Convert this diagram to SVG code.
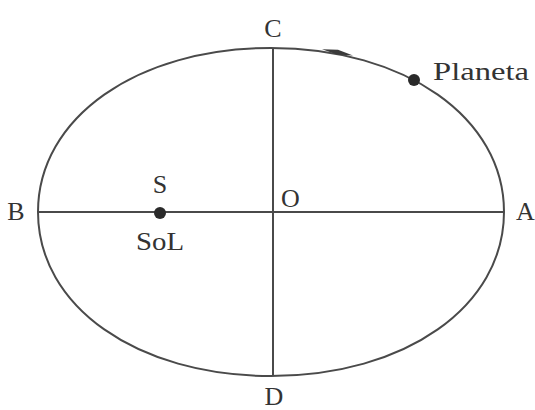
<svg xmlns="http://www.w3.org/2000/svg" width="535" height="410" viewBox="0 0 535 410">
<style>
.ln{fill:none;stroke:#4a4a4a;stroke-width:2}
.t{font-family:"Liberation Serif","DejaVu Serif",serif;font-size:26px;fill:#333}
.dot{fill:#2a2a2a}
</style>
<rect width="535" height="410" fill="#fff"/>
<g id="connectors">
<path class="ln" d="M271,48 C405,48 504,117.7 504,212 C504,306.3 405,376 271,376 C137,376 38,306.3 38,212 C38,117.7 137,48 271,48 Z"/>
<line class="ln" x1="38" y1="212" x2="504" y2="212"/>
<line class="ln" x1="273" y1="48" x2="273" y2="376"/>
<polygon points="353,55.5 338,49.8 322,49.3 337,54.6" fill="#3a3a3a"/>
</g>
<g id="C"><text class="t" x="273" y="37" text-anchor="middle">C</text></g>
<g id="D"><text class="t" x="274" y="405" text-anchor="middle">D</text></g>
<g id="B"><text class="t" x="16" y="220" text-anchor="middle">B</text></g>
<g id="A"><text class="t" x="516" y="220">A</text></g>
<g id="O"><text class="t" x="281" y="207">O</text></g>
<g id="S"><circle class="dot" cx="160" cy="213" r="6"/><text class="t" x="160" y="193" text-anchor="middle">S</text><text class="t" x="136" y="250" textLength="48" lengthAdjust="spacingAndGlyphs">SoL</text></g>
<g id="Planeta"><circle class="dot" cx="414" cy="80" r="6"/><text class="t" x="433" y="80" textLength="96" lengthAdjust="spacingAndGlyphs">Planeta</text></g>
</svg>
